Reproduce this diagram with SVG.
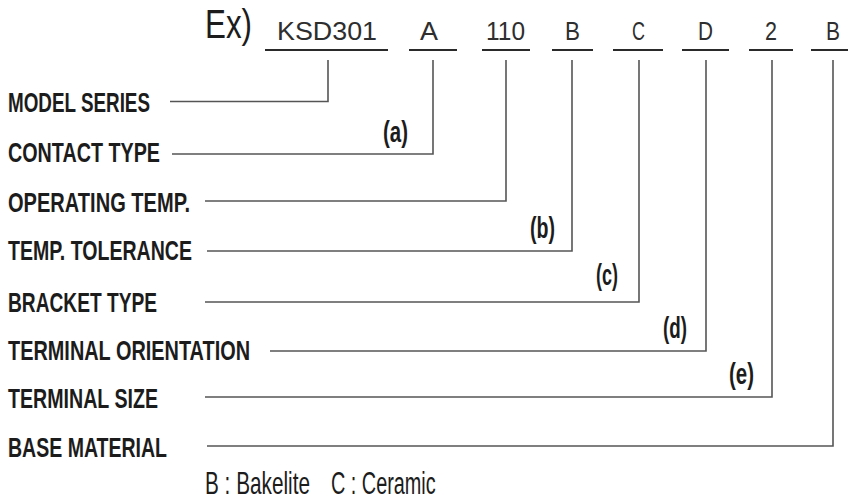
<svg xmlns="http://www.w3.org/2000/svg" width="848" height="500" viewBox="0 0 848 500">
<style>
.lab{font-family:"Liberation Sans",Arial,sans-serif;font-weight:bold;font-size:28px;fill:#1c1c1c}
.code{font-family:"Liberation Sans",Arial,sans-serif;font-size:26.5px;fill:#2e2e2e}
.ex{font-family:"Liberation Sans",Arial,sans-serif;font-size:40px;fill:#1c1c1c}
.tag{font-family:"Liberation Sans",Arial,sans-serif;font-weight:bold;font-size:30px;fill:#1c1c1c}
.note{font-family:"Liberation Sans",Arial,sans-serif;font-size:31px;fill:#1c1c1c}
.ul{stroke:#2a2a2a;stroke-width:2.2;fill:none}
.conn{stroke:#555;stroke-width:1.6;fill:none}
</style>
<rect width="848" height="500" fill="#fff"/>
<g id="header">
<text class="ex" x="205" y="38" textLength="47" lengthAdjust="spacingAndGlyphs">Ex)</text>
<text class="code" x="277" y="40" textLength="100" lengthAdjust="spacingAndGlyphs">KSD301</text>
<text class="code" x="420" y="40" textLength="18" lengthAdjust="spacingAndGlyphs">A</text>
<text class="code" x="486" y="40" textLength="39" lengthAdjust="spacingAndGlyphs">110</text>
<text class="code" x="565" y="40" textLength="15" lengthAdjust="spacingAndGlyphs">B</text>
<text class="code" x="632" y="40" textLength="13" lengthAdjust="spacingAndGlyphs">C</text>
<text class="code" x="698" y="40" textLength="15" lengthAdjust="spacingAndGlyphs">D</text>
<text class="code" x="765" y="40" textLength="12" lengthAdjust="spacingAndGlyphs">2</text>
<text class="code" x="826" y="40" textLength="14" lengthAdjust="spacingAndGlyphs">B</text>
<path class="ul" d="M265 50H388M409 50H457M482 50H530M552 50H593M613 50H663M682 50H729M749 50H793M811 50H848"/>
</g>
<g id="connectors">
<path class="conn" d="M170 101.5H328V60"/>
<path class="conn" d="M172 154H433V60"/>
<path class="conn" d="M205 201H506V60"/>
<path class="conn" d="M207 251H572V60"/>
<path class="conn" d="M205 302H639V60"/>
<path class="conn" d="M270 351H706V60"/>
<path class="conn" d="M205 397H772V60"/>
<path class="conn" d="M207 446H833V60"/>
</g>
<g id="model-series"><text class="lab" x="8" y="112" textLength="142" lengthAdjust="spacingAndGlyphs">MODEL SERIES</text></g>
<g id="contact-type"><text class="lab" x="8" y="162" textLength="152" lengthAdjust="spacingAndGlyphs">CONTACT TYPE</text><text class="tag" x="383" y="142" textLength="25" lengthAdjust="spacingAndGlyphs">(a)</text></g>
<g id="operating-temp"><text class="lab" x="8" y="212" textLength="182" lengthAdjust="spacingAndGlyphs">OPERATING TEMP.</text></g>
<g id="temp-tolerance"><text class="lab" x="8" y="260" textLength="184" lengthAdjust="spacingAndGlyphs">TEMP. TOLERANCE</text><text class="tag" x="530" y="238" textLength="25" lengthAdjust="spacingAndGlyphs">(b)</text></g>
<g id="bracket-type"><text class="lab" x="8" y="312" textLength="149" lengthAdjust="spacingAndGlyphs">BRACKET TYPE</text><text class="tag" x="596" y="285" textLength="22" lengthAdjust="spacingAndGlyphs">(c)</text></g>
<g id="terminal-orientation"><text class="lab" x="8" y="360" textLength="242" lengthAdjust="spacingAndGlyphs">TERMINAL ORIENTATION</text><text class="tag" x="663" y="338" textLength="24" lengthAdjust="spacingAndGlyphs">(d)</text></g>
<g id="terminal-size"><text class="lab" x="8" y="408" textLength="150" lengthAdjust="spacingAndGlyphs">TERMINAL SIZE</text><text class="tag" x="729" y="384" textLength="25" lengthAdjust="spacingAndGlyphs">(e)</text></g>
<g id="base-material"><text class="lab" x="8" y="457" textLength="159" lengthAdjust="spacingAndGlyphs">BASE MATERIAL</text>
<text class="note" transform="translate(205 494) scale(0.67 1)">B : Bakelite</text>
<text class="note" transform="translate(331 494) scale(0.64 1)">C : Ceramic</text></g>
</svg>
